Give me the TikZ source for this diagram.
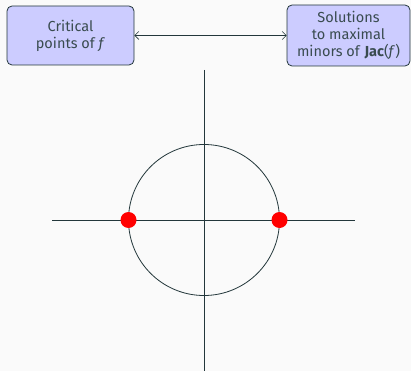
\documentclass[tikz,border=0pt]{standalone}
\usepackage{fontspec}
\setmainfont{Fira Sans}[Scale=1]
\usetikzlibrary{arrows.meta}
\definecolor{bg}{HTML}{FAFAFA}
\definecolor{fg}{HTML}{23373B}
\definecolor{boxfill}{HTML}{CCCCFF}
\tikzset{
  infobox/.style={draw=fg, fill=boxfill, rounded corners=5pt, line width=0.8pt,
    text=fg!90, align=center, font=\fontsize{14.5}{17}\selectfont, inner sep=0pt},
  axis/.style={draw=fg, line width=0.8pt},
  critpt/.style={circle, fill=red, inner sep=0pt, minimum size=16pt},
}
\begin{document}
\begin{tikzpicture}[x=1pt,y=-1pt]
\fill[bg] (0,0) rectangle (411,371);
\useasboundingbox (0,0) rectangle (411,371);
\node[infobox, minimum width=127pt, minimum height=59pt] (crit) at (70.5,35.5) {Critical\\points of \textit{f}};
\node[infobox, minimum width=123pt, minimum height=61pt] (sol) at (348.5,35.5) {Solutions\\to maximal\\minors of \textbf{Jac}(\textit{f})};
\draw[fg, line width=0.6pt, {Straight Barb[length=4pt,width=8pt]}-{Straight Barb[length=4pt,width=8pt]}] (crit) -- (sol);
\coordinate (vtop) at (204,70);
\coordinate (vbot) at (204,371);
\coordinate (hl) at (52,220);
\coordinate (hr) at (355,220);
\coordinate (o) at (204,220);
\draw[axis] (vtop) -- (vbot);
\draw[axis] (hl) -- (hr);
\draw[axis] (o) circle[radius=75.5];
\node[critpt] (p1) at (128.5,220) {};
\node[critpt] (p2) at (279.5,220) {};
\end{tikzpicture}
\end{document}
